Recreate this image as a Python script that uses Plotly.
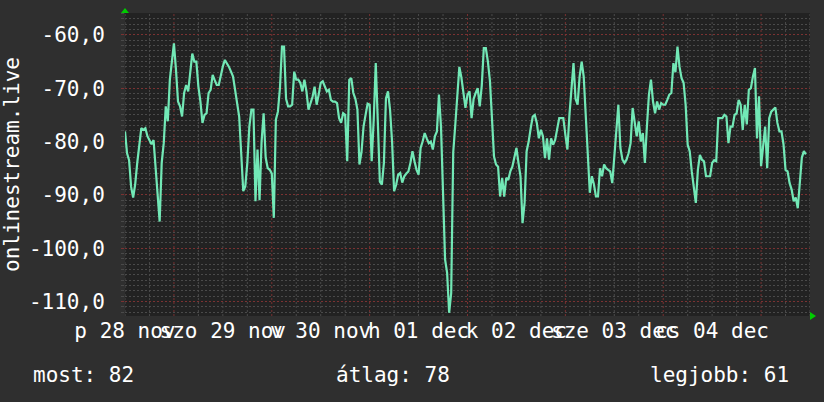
import plotly.graph_objects as go
import pandas as pd

# ---------------- data ----------------
start_time = "2025-11-28 12:00"
end_time = "2025-12-05 12:00"
step = "30min"

values = [
    -78.1, -82.2, -83.5, -88.5, -90.5, -88.0, -84.0, -80.9, -77.5, -77.8,
    -77.5, -79.0, -79.7, -80.5, -79.7, -85.3, -89.0, -95.0, -84.0, -80.3,
    -73.4, -76.2, -68.4, -65.0, -61.6, -66.5, -72.5, -73.4, -75.3, -70.9,
    -69.4, -70.6, -67.5, -63.5, -65.0, -65.0, -69.7, -72.5, -76.5, -75.0,
    -74.7, -70.9, -70.3, -67.5, -68.5, -69.4, -69.4, -67.5, -65.9, -64.7,
    -65.3, -66.0, -66.9, -67.8, -70.3, -72.5, -75.3, -82.2, -89.3, -88.4,
    -84.0, -77.2, -74.0, -74.0, -91.2, -81.5, -91.0, -80.0, -74.7, -83.0,
    -85.0, -85.3, -86.0, -94.3, -75.9, -74.4, -70.0, -62.2, -62.2, -72.0,
    -73.4, -73.4, -73.1, -66.9, -68.4, -68.4, -69.0, -70.6, -68.4, -70.6,
    -74.0, -72.8, -71.6, -69.7, -73.1, -71.2, -69.0, -68.7, -69.7, -70.6,
    -70.3, -72.2, -72.5, -72.5, -72.8, -75.6, -76.5, -74.7, -75.0, -83.7,
    -68.4, -68.1, -70.9, -72.0, -74.0, -84.3, -82.0, -77.2, -75.0, -72.9,
    -73.1, -83.7, -75.9, -65.3, -76.2, -87.5, -88.1, -84.0, -71.9, -70.6,
    -74.0, -80.0, -89.3, -88.1, -86.2, -85.9, -87.7, -86.5, -86.0, -85.6,
    -84.0, -81.8, -83.7, -85.3, -86.2, -81.2, -80.0, -78.4, -79.4, -80.3,
    -80.0, -81.5, -79.0, -78.1, -71.2, -77.2, -89.6, -102.1, -104.6, -112.1,
    -108.4, -82.0, -76.9, -70.3, -66.0, -68.0, -71.0, -73.7, -71.2, -70.6,
    -75.6, -72.0, -70.9, -70.0, -73.4, -69.5, -62.5, -62.5, -65.0, -68.6,
    -75.6, -82.8, -84.3, -84.7, -90.3, -86.8, -90.3, -86.8, -87.2, -85.6,
    -84.7, -82.8, -81.2, -84.0, -86.5, -95.3, -91.5, -81.8, -80.0, -77.5,
    -75.3, -75.0, -76.5, -79.4, -77.8, -79.0, -83.1, -79.4, -83.4, -79.4,
    -80.6, -79.7, -77.8, -75.6, -75.6, -75.6, -78.7, -81.5, -75.0, -70.0,
    -65.3, -72.0, -73.1, -67.8, -65.0, -67.8, -75.0, -82.2, -89.6, -86.5,
    -88.0, -90.3, -90.3, -85.0, -86.5, -84.3, -85.0, -85.3, -85.6, -87.8,
    -82.8, -79.0, -73.1, -81.2, -83.4, -84.0, -83.4, -82.2, -80.3, -73.7,
    -76.0, -79.0, -76.2, -80.0, -78.4, -84.0, -77.2, -71.2, -68.4, -72.5,
    -74.7, -72.5, -74.0, -72.8, -73.1, -73.1, -72.2, -71.2, -70.9, -65.3,
    -67.0, -62.2, -66.0, -68.1, -69.0, -73.1, -80.6, -81.8, -85.6, -88.4,
    -91.5, -85.3, -82.5, -83.4, -83.7, -86.5, -86.5, -86.5, -84.0, -83.5,
    -83.7, -75.6, -75.6, -75.6, -75.0, -75.3, -80.3, -77.2, -77.2, -75.0,
    -74.7, -72.2, -73.1, -77.8, -73.1, -76.8, -70.3, -70.0, -67.8, -66.2,
    -79.4, -71.5, -84.6, -80.3, -77.2, -85.0, -75.6, -74.4, -74.0, -73.6,
    -76.5, -78.1, -78.1, -80.5, -85.3, -85.6, -87.8, -89.0, -91.2, -90.5,
    -92.5, -87.8, -83.0, -81.8, -82.4,
]

# day boundaries (major grid) and the label of the day that ends there
midnights = ["2025-11-29", "2025-11-30", "2025-12-01", "2025-12-02",
             "2025-12-03", "2025-12-04", "2025-12-05"]
day_labels = ["p 28 nov", "szo 29 nov", "v 30 nov", "h 01 dec",
              "k 02 dec", "sze 03 dec", "cs 04 dec"]

y_ticks = [-110, -100, -90, -80, -70, -60]
y_tick_labels = ["-110,0", "-100,0", "-90,0", "-80,0", "-70,0", "-60,0"]
y_range = [-112.7, -55.9]

axis_title = "onlinestream.live"
summary_labels = ["most", "átlag", "legjobb"]
summary_values = [82, 78, 61]

# ---------------- style ----------------
FONT = "DejaVu Sans Mono"
BG = "#2f2f2f"
PLOT_BG = "#222222"
LINE = "#72e8b6"
MAJOR_GRID = "rgba(125,48,48,0.95)"
MINOR_GRID = "#4a4a4a"
TXT = "#ffffff"
ARROW = "#00cc00"
W, H = 824, 402
M_L, M_R, M_T, M_B = 125, 14, 13, 86
plot_w = W - M_L - M_R
half_day_px = int(round(plot_w / 7 / 2))   # labels centred on mid-day

times = pd.date_range(start_time, periods=len(values), freq=step)

fig = go.Figure()
fig.add_trace(go.Scatter(x=times, y=values, mode="lines",
                         line=dict(color=LINE, width=2.2),
                         hoverinfo="skip", showlegend=False))

fig.update_layout(
    width=W, height=H,
    margin=dict(l=M_L, r=M_R, t=M_T, b=M_B),
    paper_bgcolor=BG, plot_bgcolor=PLOT_BG,
    showlegend=False,
    font=dict(family=FONT, size=21, color=TXT),
    xaxis=dict(
        type="date", range=[start_time, end_time], automargin=False,
        tickvals=midnights, ticktext=day_labels, tickangle=0,
        ticklabelshift=-half_day_px, ticklabelstandoff=0,
        tickfont=dict(family=FONT, size=21, color=TXT),
        showgrid=False, ticks="",
        zeroline=False, showline=False,
    ),
    yaxis=dict(
        range=y_range, tickvals=y_ticks, ticktext=y_tick_labels,
        automargin=False,
        showgrid=True, gridcolor=MAJOR_GRID, griddash="2px,2px",
        ticks="outside", ticklen=3, tickcolor=MAJOR_GRID,
        zeroline=False, showline=False,
        tickfont=dict(family=FONT, size=21, color=TXT),
        ticklabelstandoff=12,
        minor=dict(dtick=1, showgrid=True, gridcolor=MINOR_GRID,
                   griddash="2px,2px", ticks="outside", ticklen=3,
                   tickcolor=MINOR_GRID),
        title=dict(text=axis_title, standoff=22,
                   font=dict(family=FONT, size=21, color=TXT)),
    ),
)

# vertical time grid: every 6 hours (grey), day boundaries (red)
major_set = set(pd.to_datetime(midnights))
for t in pd.date_range(start_time, end_time, freq="6h"):
    is_major = t in major_set
    fig.add_shape(type="line", xref="x", yref="paper",
                  x0=t, x1=t, y0=0, y1=1, layer="below",
                  line=dict(color=MAJOR_GRID if is_major else MINOR_GRID,
                            width=1, dash="2px,2px"))

# axis arrows (rrdtool style)
fig.add_shape(type="path", xref="paper", yref="paper",
              xsizemode="pixel", ysizemode="pixel", xanchor=0, yanchor=1,
              path="M-4,0 L4,0 L0,5 Z", fillcolor=ARROW, line=dict(width=0))
fig.add_shape(type="path", xref="paper", yref="paper",
              xsizemode="pixel", ysizemode="pixel", xanchor=1, yanchor=0,
              path="M0,-4 L0,4 L6,0 Z", fillcolor=ARROW, line=dict(width=0))

# summary line at the bottom
positions = [(-0.137, "left"), (0.391, "center"), (0.972, "right")]
for (lab, val), (px, anchor) in zip(zip(summary_labels, summary_values), positions):
    fig.add_annotation(text=f"{lab}: {val}", xref="paper", yref="paper",
                       x=px, y=-0.195, xanchor=anchor, yanchor="middle",
                       showarrow=False,
                       font=dict(family=FONT, size=21, color=TXT))

fig.write_html(
    "out.html",
    config={"displayModeBar": False},
    post_script=(
        "document.body.style.margin='0px';"
        "document.body.style.background='#2f2f2f';"
    ),
)
